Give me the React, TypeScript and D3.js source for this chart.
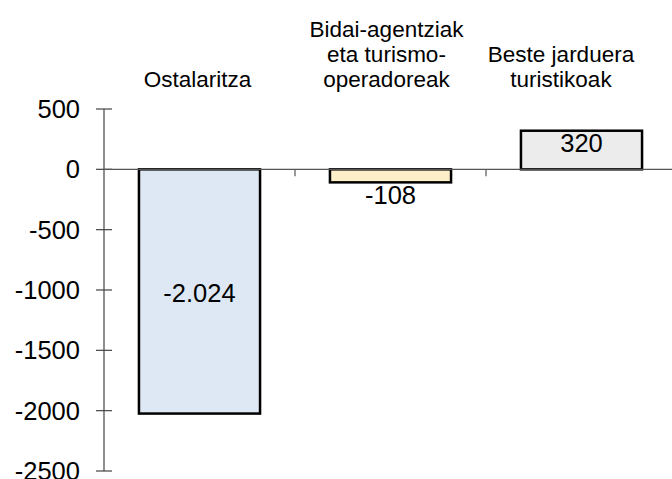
import React, { useRef, useEffect } from "react";
import * as d3 from "d3";

const categories = [
  ["Ostalaritza"],
  ["Bidai-agentziak", "eta turismo-", "operadoreak"],
  ["Beste jarduera", "turistikoak"],
];
const values = [-2024, -108, 320];
const valueLabels = ["-2.024", "-108", "320"];
const barColors = ["#dde8f4", "#fdf0c9", "#ececec"];
const yTicks = [500, 0, -500, -1000, -1500, -2000, -2500];

const W = 672;
const H = 479;
const FONT = "Arial, 'Liberation Sans', sans-serif";

const Chart = () => {
  const ref = useRef<SVGSVGElement>(null);

  useEffect(() => {
    const svg = d3.select(ref.current);
    svg.selectAll("*").remove();

    const keys = categories.map((c) => c.join(" "));
    const x = d3
      .scaleBand()
      .domain(keys)
      .range([104, 677])
      .paddingInner(0.366)
      .paddingOuter(0.183);
    const y = d3.scaleLinear().domain([-2500, 500]).range([471, 109]);
    const step = x.step();

    // y axis
    svg
      .append("line")
      .attr("x1", 104)
      .attr("x2", 104)
      .attr("y1", y(500))
      .attr("y2", y(-2500))
      .attr("stroke", "#444")
      .attr("stroke-width", 1.2);

    const yt = svg.append("g");
    yt.selectAll("line")
      .data(yTicks)
      .enter()
      .append("line")
      .attr("x1", 96)
      .attr("x2", 112)
      .attr("y1", (d) => y(d))
      .attr("y2", (d) => y(d))
      .attr("stroke", "#444")
      .attr("stroke-width", 1.2);
    yt.selectAll("text")
      .data(yTicks)
      .enter()
      .append("text")
      .attr("x", 80)
      .attr("y", (d) => y(d) + 9)
      .attr("text-anchor", "end")
      .attr("font-family", FONT)
      .attr("font-size", 25.5)
      .attr("fill", "#000")
      .text((d) => String(d));

    // bars
    svg
      .selectAll(".bar")
      .data(values)
      .enter()
      .append("rect")
      .attr("class", "bar")
      .attr("x", (_, i) => x(keys[i])!)
      .attr("width", x.bandwidth())
      .attr("y", (d) => Math.min(y(d), y(0)))
      .attr("height", (d) => Math.abs(y(d) - y(0)))
      .attr("fill", (_, i) => barColors[i])
      .attr("stroke", "#000")
      .attr("stroke-width", 2.5);

    // zero line and category ticks
    svg
      .append("line")
      .attr("x1", 104)
      .attr("x2", W)
      .attr("y1", y(0))
      .attr("y2", y(0))
      .attr("stroke", "#555")
      .attr("stroke-width", 1.2);
    svg
      .selectAll(".ctick")
      .data(keys.slice(1))
      .enter()
      .append("line")
      .attr("class", "ctick")
      .attr("x1", (d) => x(d)! - (step - x.bandwidth()) / 2)
      .attr("x2", (d) => x(d)! - (step - x.bandwidth()) / 2)
      .attr("y1", y(0))
      .attr("y2", y(0) + 7)
      .attr("stroke", "#555")
      .attr("stroke-width", 1.2);

    // value labels
    svg
      .selectAll(".vlabel")
      .data(values)
      .enter()
      .append("text")
      .attr("class", "vlabel")
      .attr("x", (_, i) => x(keys[i])! + x.bandwidth() / 2)
      .attr("y", (d) => {
        if (d < -1000) return (y(d) + y(0)) / 2 + 11;
        if (d < 0) return y(d) + 22;
        return y(d) + 21;
      })
      .attr("text-anchor", "middle")
      .attr("font-family", FONT)
      .attr("font-size", 25.5)
      .attr("fill", "#000")
      .text((_, i) => valueLabels[i]);

    // category labels (bottom aligned above the plot)
    const labelX = [x(keys[0])! + x.bandwidth() / 2 - 2, x(keys[1])! + x.bandwidth() / 2 - 4, 561];
    categories.forEach((lines, i) => {
      const t = svg
        .append("text")
        .attr("text-anchor", "middle")
        .attr("font-family", FONT)
        .attr("font-size", 22.5)
        .attr("fill", "#000");
      lines.forEach((ln, j) => {
        t.append("tspan")
          .attr("x", labelX[i])
          .attr("y", 87 - (lines.length - 1 - j) * 25)
          .text(ln);
      });
    });
  }, []);

  return (
    <svg
      ref={ref}
      width={W}
      height={H}
      style={{ position: "absolute", left: 0, top: 0, background: "#fff" }}
    />
  );
};

export default function App() {
  return <Chart />;
}
